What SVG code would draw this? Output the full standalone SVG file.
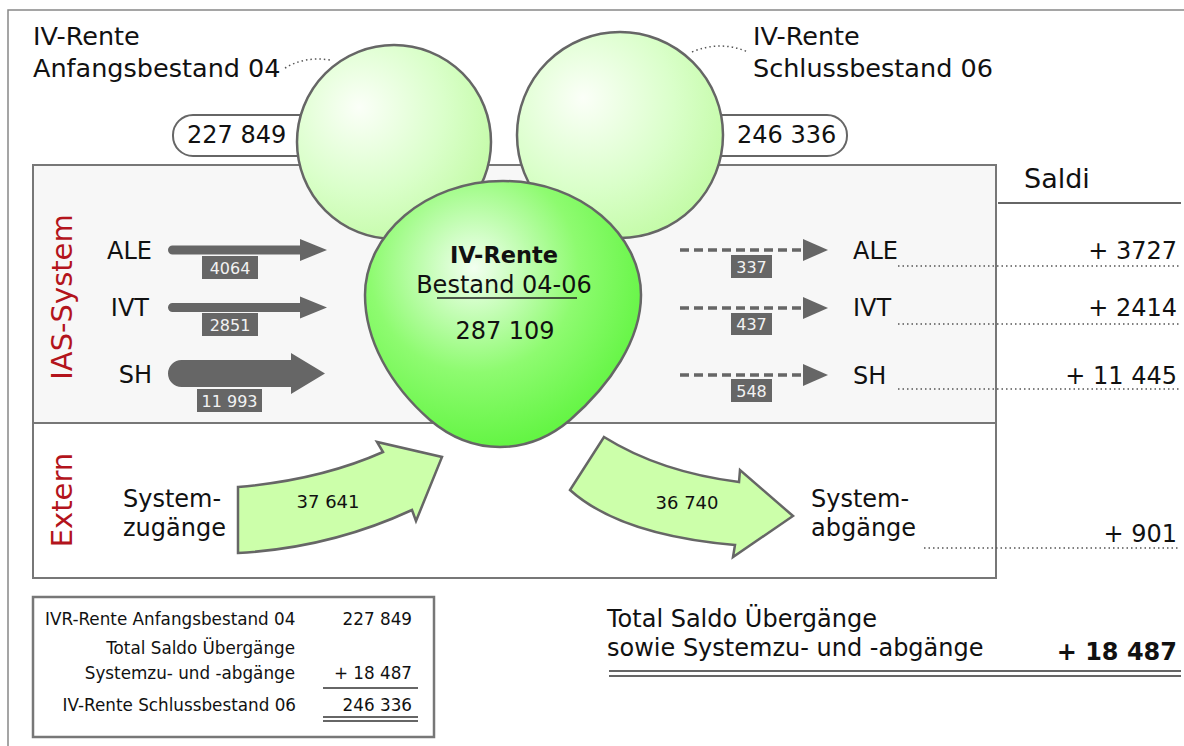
<svg xmlns="http://www.w3.org/2000/svg" width="1184" height="746" viewBox="0 0 1184 746">
<defs>
<radialGradient id="gSmall" cx="0.35" cy="0.35" r="0.7" fx="0.32" fy="0.32">
<stop offset="0" stop-color="#fbfff8"/>
<stop offset="0.6" stop-color="#daffca"/>
<stop offset="1" stop-color="#c4fba8"/>
</radialGradient>
<radialGradient id="gBlob" gradientUnits="userSpaceOnUse" cx="474" cy="268" r="190" fx="474" fy="268">
<stop offset="0" stop-color="#f2fff0"/>
<stop offset="0.55" stop-color="#8efb70"/>
<stop offset="1" stop-color="#5ef43e"/>
</radialGradient>
<style>
text{font-family:"DejaVu Sans","Liberation Sans",sans-serif;fill:#111}
.big{font-size:25.5px}
.m{font-size:24px}
.s{font-size:16.8px}
.lbl{font-size:16px;fill:#f2f2f2;text-anchor:middle}
.red{font-size:29px;fill:#b3141c;text-anchor:middle}
.end{text-anchor:end}
.mid{text-anchor:middle}
.dot{fill:none;stroke:#555;stroke-width:1.5;stroke-dasharray:1.5 3}
.box{stroke:#777;stroke-width:2}
.ball{fill:url(#gSmall);stroke:#666;stroke-width:2.5}
.gray{fill:#666}
.dash{fill:none;stroke:#666;stroke-width:3.5;stroke-dasharray:9 5}
.big-arrow{fill:#ccffaa;stroke:#666;stroke-width:2.5;stroke-linejoin:miter}
.pill{fill:#fff;stroke:#666;stroke-width:2}
.rule{stroke:#333;stroke-width:1.5}
</style>
</defs>
<rect width="1184" height="746" fill="#fff"/>
<rect x="8" y="10" width="1200" height="760" fill="none" stroke="#888" stroke-width="1.5"/>

<g id="ias-system-box">
<rect class="box" x="33" y="165" width="963" height="258" fill="#f7f7f7"/>
<text class="red" transform="translate(72,297) rotate(-90)">IAS-System</text>
</g>
<g id="extern-box">
<rect class="box" x="33" y="423" width="963" height="155" fill="#fff"/>
<text class="red" transform="translate(72,500) rotate(-90)">Extern</text>
</g>

<g id="anfangsbestand">
<rect class="pill" x="173" y="115" width="160" height="41" rx="20"/>
<text class="m" x="187" y="143">227 849</text>
<circle class="ball" cx="394" cy="142" r="97"/>
<text class="big" x="33" y="45">IV-Rente</text>
<text class="big" x="33" y="77">Anfangsbestand 04</text>
</g>
<g id="schlussbestand">
<rect class="pill" x="690" y="115" width="157" height="41" rx="20"/>
<text class="m" x="737" y="143">246 336</text>
<circle class="ball" cx="620" cy="135" r="103"/>
<text class="big" x="753" y="45">IV-Rente</text>
<text class="big" x="753" y="77">Schlussbestand 06</text>
</g>

<g id="bestand">
<path d="M503,181 C581,181 641,235 641,295 C641,340 610,385 570,420 C550,437 527,447 500,447 C473,447 450,437 430,420 C390,385 365,340 365,295 C365,235 425,181 503,181 Z" fill="url(#gBlob)" stroke="#666" stroke-width="2.5"/>
<text class="mid" x="504" y="263" style="font-size:22.5px;font-weight:bold">IV-Rente</text>
<text class="m mid" x="504" y="293">Bestand 04-06</text>
<line x1="437" y1="298" x2="577" y2="298" stroke="#222" stroke-width="1.5"/>
<text class="m mid" x="505" y="339">287 109</text>
</g>

<g id="connectors">
<path class="dot" d="M285,68 Q305,56 330,60"/>
<path class="dot" d="M692,52 Q720,40 748,52"/>
<path class="gray" d="M172.5,245.5 L300,245.5 L300,239 L327,250 L300,261 L300,254.5 L172.5,254.5 A4.5,4.5 0 0 1 172.5,245.5 Z"/>
<path class="gray" d="M172.5,303 L300,303 L300,296.5 L327,307.5 L300,318.5 L300,312 L172.5,312 A4.5,4.5 0 0 1 172.5,303 Z"/>
<path class="gray" d="M181.5,360 L291,360 L291,353 L325,373.5 L291,394 L291,387 L181.5,387 A13.5,13.5 0 0 1 181.5,360 Z"/>
<line class="dash" x1="680" y1="250" x2="805" y2="250"/>
<polygon class="gray" points="803,239 828,250 803,261"/>
<line class="dash" x1="680" y1="308" x2="805" y2="308"/>
<polygon class="gray" points="803,297 828,308 803,319"/>
<line class="dash" x1="680" y1="375" x2="805" y2="375"/>
<polygon class="gray" points="803,364 828,375 803,386"/>
<path class="big-arrow" d="M238,487 Q320,480 383,452 L377,442 L442,457 L416,521 L412,510 Q330,548 238,553 Z"/>
<path class="big-arrow" d="M604,437 Q660,472 739,482 L740,470 L793,516 L733,557 L735,545 Q620,535 570,490 Z"/>
<path class="dot" d="M898,266 H1180 M898,324 H1180 M898,389 H1180 M924,548 H1180"/>
</g>

<g id="ale-in">
<text class="m end" x="152" y="259">ALE</text>
<rect class="gray" x="202" y="256" width="56" height="23"/>
<text class="lbl" x="230" y="274">4064</text>
</g>
<g id="ivt-in">
<text class="m end" x="149" y="316">IVT</text>
<rect class="gray" x="202" y="313" width="56" height="23"/>
<text class="lbl" x="230" y="331">2851</text>
</g>
<g id="sh-in">
<text class="m end" x="152" y="383">SH</text>
<rect class="gray" x="197" y="389" width="65" height="23"/>
<text class="lbl" x="229.5" y="407">11 993</text>
</g>
<g id="ale-out">
<rect class="gray" x="731" y="255" width="41" height="23"/>
<text class="lbl" x="751.5" y="273">337</text>
<text class="m" x="853" y="259">ALE</text>
<text class="m end" x="1177" y="259">+ 3727</text>
</g>
<g id="ivt-out">
<rect class="gray" x="731" y="313" width="41" height="22"/>
<text class="lbl" x="751.5" y="330">437</text>
<text class="m" x="853" y="316">IVT</text>
<text class="m end" x="1177" y="316">+ 2414</text>
</g>
<g id="sh-out">
<rect class="gray" x="731" y="379" width="41" height="23"/>
<text class="lbl" x="751.5" y="397">548</text>
<text class="m" x="853" y="384">SH</text>
<text class="m end" x="1177" y="384">+ 11 445</text>
</g>

<g id="zugaenge">
<text class="m" x="123" y="507">System-</text>
<text class="m" x="123" y="536">zugänge</text>
<text class="mid" x="328" y="508" style="font-size:18px">37 641</text>
</g>
<g id="abgaenge">
<text class="mid" x="687" y="509" style="font-size:18px">36 740</text>
<text class="m" x="811" y="507">System-</text>
<text class="m" x="811" y="536">abgänge</text>
<text class="m end" x="1177" y="542">+ 901</text>
</g>

<g id="saldi">
<text x="1024" y="188" style="font-size:27px">Saldi</text>
<line class="rule" x1="998" y1="203" x2="1181" y2="203"/>
</g>

<g id="total-saldo">
<text class="m" x="607" y="627">Total Saldo Übergänge</text>
<text class="m" x="607" y="656">sowie Systemzu- und -abgänge</text>
<text class="m end" x="1177" y="660" style="font-weight:bold">+ 18 487</text>
<line class="rule" x1="609" y1="671" x2="1181" y2="671"/>
<line class="rule" x1="609" y1="676" x2="1181" y2="676"/>
</g>

<g id="summary">
<rect x="33" y="597" width="401" height="140" fill="#fff" stroke="#777" stroke-width="2.5"/>
<text class="s" x="45" y="625">IVR-Rente Anfangsbestand 04</text>
<text class="s end" x="412" y="625">227 849</text>
<text class="s end" x="295" y="654">Total Saldo Übergänge</text>
<text class="s end" x="295" y="679">Systemzu- und -abgänge</text>
<text class="s end" x="412" y="679">+ 18 487</text>
<line class="rule" x1="323" y1="688" x2="418" y2="688" stroke-width="1.2"/>
<text class="s end" x="296" y="711">IV-Rente Schlussbestand 06</text>
<text class="s end" x="412" y="711">246 336</text>
<line class="rule" x1="323" y1="717" x2="418" y2="717" stroke-width="1.2"/>
<line class="rule" x1="323" y1="721" x2="418" y2="721" stroke-width="1.2"/>
</g>
</svg>
